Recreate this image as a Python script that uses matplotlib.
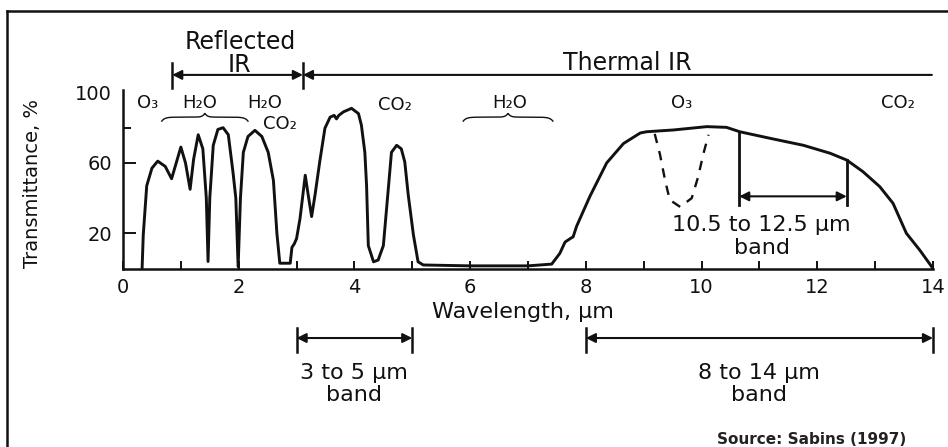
import numpy as np
import matplotlib
matplotlib.use("Agg")
import matplotlib.pyplot as plt
from matplotlib.lines import Line2D

plt.rcParams['font.family'] = ['DejaVu Sans']

# ---- data ----
wavelength = [0.33, 0.35, 0.41, 0.50, 0.60, 0.73, 0.84, 0.92, 1.00, 1.08, 1.16, 1.22,
              1.30, 1.38, 1.44, 1.47, 1.50, 1.56, 1.64, 1.73, 1.82, 1.90, 1.95, 1.99,
              2.03, 2.08, 2.16, 2.28, 2.40, 2.51, 2.60, 2.66, 2.71, 2.80, 2.89, 2.92,
              2.96, 3.00, 3.06, 3.15, 3.20, 3.26, 3.32, 3.40, 3.49, 3.58, 3.65, 3.69,
              3.73, 3.81, 3.95, 4.07, 4.12, 4.18, 4.21, 4.24, 4.33, 4.41, 4.50, 4.59,
              4.64, 4.73, 4.81, 4.87, 4.93, 5.02, 5.10, 5.19, 6.00, 7.00, 7.41, 7.55,
              7.64, 7.73, 7.78, 7.84, 8.07, 8.36, 8.65, 8.94, 9.05, 9.51, 10.09, 10.43,
              10.66, 11.18, 11.76, 12.22, 12.51, 12.79, 13.08, 13.31, 13.54, 13.77, 14.0]
transmittance = [0, 19, 47, 57, 61, 58, 51, 60, 69, 60, 45, 62,
                 76, 68, 40, 4, 40, 70, 79, 80, 76, 55, 40, 1,
                 40, 66, 75, 78.5, 75, 66, 50, 20, 3, 3, 3, 12,
                 14, 17, 28.5, 53, 42, 29.5, 42, 60.6, 79.7, 86, 87, 85,
                 87, 89, 91, 88, 81.5, 66, 47, 13, 3.8, 4.8, 13, 47,
                 66, 70, 68, 60.6, 41.8, 19, 3.8, 2, 1.5, 1.5, 2.5, 8.6,
                 15, 17, 18, 24, 41, 60, 71, 77, 77.7, 78.7, 80.6, 80.2,
                 77.7, 74, 70, 65.5, 61.6, 55, 46.5, 37, 20, 10.5, 0]

ozone_x = [9.19, 9.28, 9.37, 9.45, 9.63, 9.83, 9.94, 10.03, 10.12]
ozone_y = [76.5, 65, 50, 39, 35, 40, 52, 65, 76]

gas_labels = ["O₃", "H₂O", "H₂O", "CO₂", "CO₂", "H₂O", "O₃", "CO₂"]
gas_x = [0.43, 1.33, 2.45, 2.71, 4.70, 6.69, 9.66, 13.4]
gas_y = [94, 94, 94, 82, 93, 94, 94, 94]

band_12 = [10.65, 12.51]
band_12_top = [77.7, 61.6]
band_35 = [3.0, 5.0]
band_814 = [8.0, 14.0]
reflected_ir = [0.85, 3.11]
thermal_ir = [3.11, 13.98]

xticks = [0, 2, 4, 6, 8, 10, 12, 14]
yticks = [20, 60, 100]
ink = '#111111'

fig = plt.figure(figsize=(9.48, 4.47), dpi=100)
ax = fig.add_axes([123 / 948, 178.5 / 447, 810 / 948, 101.5 * 1.76 / 447])
ax.set_xlim(0, 14)
ax.set_ylim(0, 101.5)

ax.plot(wavelength, transmittance, color=ink, lw=2.1, solid_joinstyle='round')
ax.plot(ozone_x, ozone_y, color=ink, lw=1.7, ls=(0, (4, 3.5)))

for s in ['top', 'right']:
    ax.spines[s].set_visible(False)
for s in ['left', 'bottom']:
    ax.spines[s].set_linewidth(1.8)
    ax.spines[s].set_color(ink)

ax.set_xticks(xticks)
ax.set_xticks(range(1, 14, 2), minor=True)
ax.set_yticks(yticks)
ax.set_yticks([80], minor=True)
ax.tick_params(axis='both', which='both', direction='in', color=ink, width=1.4)
ax.tick_params(axis='x', which='both', length=6, labelsize=14, pad=7, labelcolor=ink)
ax.tick_params(axis='y', which='major', length=9, labelsize=14, pad=8, labelcolor=ink)
ax.tick_params(axis='y', which='minor', length=6)
ax.yaxis.get_major_ticks()[-1].tick1line.set_visible(False)

# axis titles
ax.text(6.91, -24.5, "Wavelength, µm", ha='center', va='center', fontsize=16,
        color=ink, clip_on=False)
fig.text(33 / 948, 1 - 184 / 447, "Transmittance, %", rotation=90, ha='center',
         va='center', fontsize=14, color=ink)

# gas labels
for lab, gx, gy in zip(gas_labels, gas_x, gas_y):
    ax.text(gx, gy, lab, ha='center', va='center', fontsize=13, color=ink, clip_on=False)


def brace(x0, x1, y, h):
    t = np.linspace(0, 1, 200)
    u = 1 - np.abs(2 * t - 1)
    yy = y + h * (-0.5 * np.exp(-u / 0.07) + 0.5 * np.exp(-(1 - u) / 0.05))
    ax.plot(x0 + (x1 - x0) * t, yy, color=ink, lw=1.0, clip_on=False)


brace(0.67, 2.16, 86, 4.5)
brace(5.88, 7.43, 86, 4.5)

arrow_kw = dict(color=ink, lw=1.5, shrinkA=0, shrinkB=0, mutation_scale=14)

# reflected / thermal IR
ax.annotate('', xy=(reflected_ir[0], 110), xytext=(reflected_ir[1], 110),
            arrowprops=dict(arrowstyle='<|-|>', **arrow_kw), annotation_clip=False)
for xv in reflected_ir:
    ax.plot([xv, xv], [102.6, 116.8], color=ink, lw=1.8, clip_on=False)
ax.annotate('', xy=(thermal_ir[0], 110), xytext=(thermal_ir[1], 110),
            arrowprops=dict(arrowstyle='-|>', **arrow_kw), annotation_clip=False)
ax.text(2.02, 128.7, "Reflected", ha='center', va='center', fontsize=17, color=ink,
        clip_on=False)
ax.text(2.02, 115.6, "IR", ha='center', va='center', fontsize=17, color=ink, clip_on=False)
ax.text(8.71, 116.8, "Thermal IR", ha='center', va='center', fontsize=17, color=ink,
        clip_on=False)

# 10.5 to 12.5 band
for xv, top in zip(band_12, band_12_top):
    ax.plot([xv, xv], [36, top], color=ink, lw=2.0)
ax.annotate('', xy=(band_12[0], 41), xytext=(band_12[1], 41),
            arrowprops=dict(arrowstyle='<|-|>', **arrow_kw))
ax.text(11.04, 24.7, "10.5 to 12.5 µm", ha='center', va='center', fontsize=16, color=ink)
ax.text(11.04, 11.6, "band", ha='center', va='center', fontsize=16, color=ink)

# bottom bands
for band in (band_35, band_814):
    ax.annotate('', xy=(band[0], -39.5), xytext=(band[1], -39.5),
                arrowprops=dict(arrowstyle='<|-|>', **arrow_kw), annotation_clip=False)
    for xv in band:
        ax.plot([xv, xv], [-33.8, -47.4], color=ink, lw=1.8, clip_on=False)
    cx = (band[0] + band[1]) / 2
    ax.text(cx, -59.4, f"{band[0]:g} to {band[1]:g} µm", ha='center', va='center',
            fontsize=16, color=ink, clip_on=False)
    ax.text(cx, -71.9, "band", ha='center', va='center', fontsize=16, color=ink,
            clip_on=False)

fig.text(812 / 948, 1 - 440 / 447, "Source: Sabins (1997)", ha='center', va='center',
         fontsize=11, fontweight='bold', color='#222222')

# frame lines
fig.add_artist(Line2D([7 / 948, 1], [1 - 11 / 447, 1 - 11 / 447], color=ink, lw=1.8))
fig.add_artist(Line2D([7 / 948, 7 / 948], [0, 1 - 11 / 447], color=ink, lw=1.8))

fig.savefig("out.png", dpi=100)
